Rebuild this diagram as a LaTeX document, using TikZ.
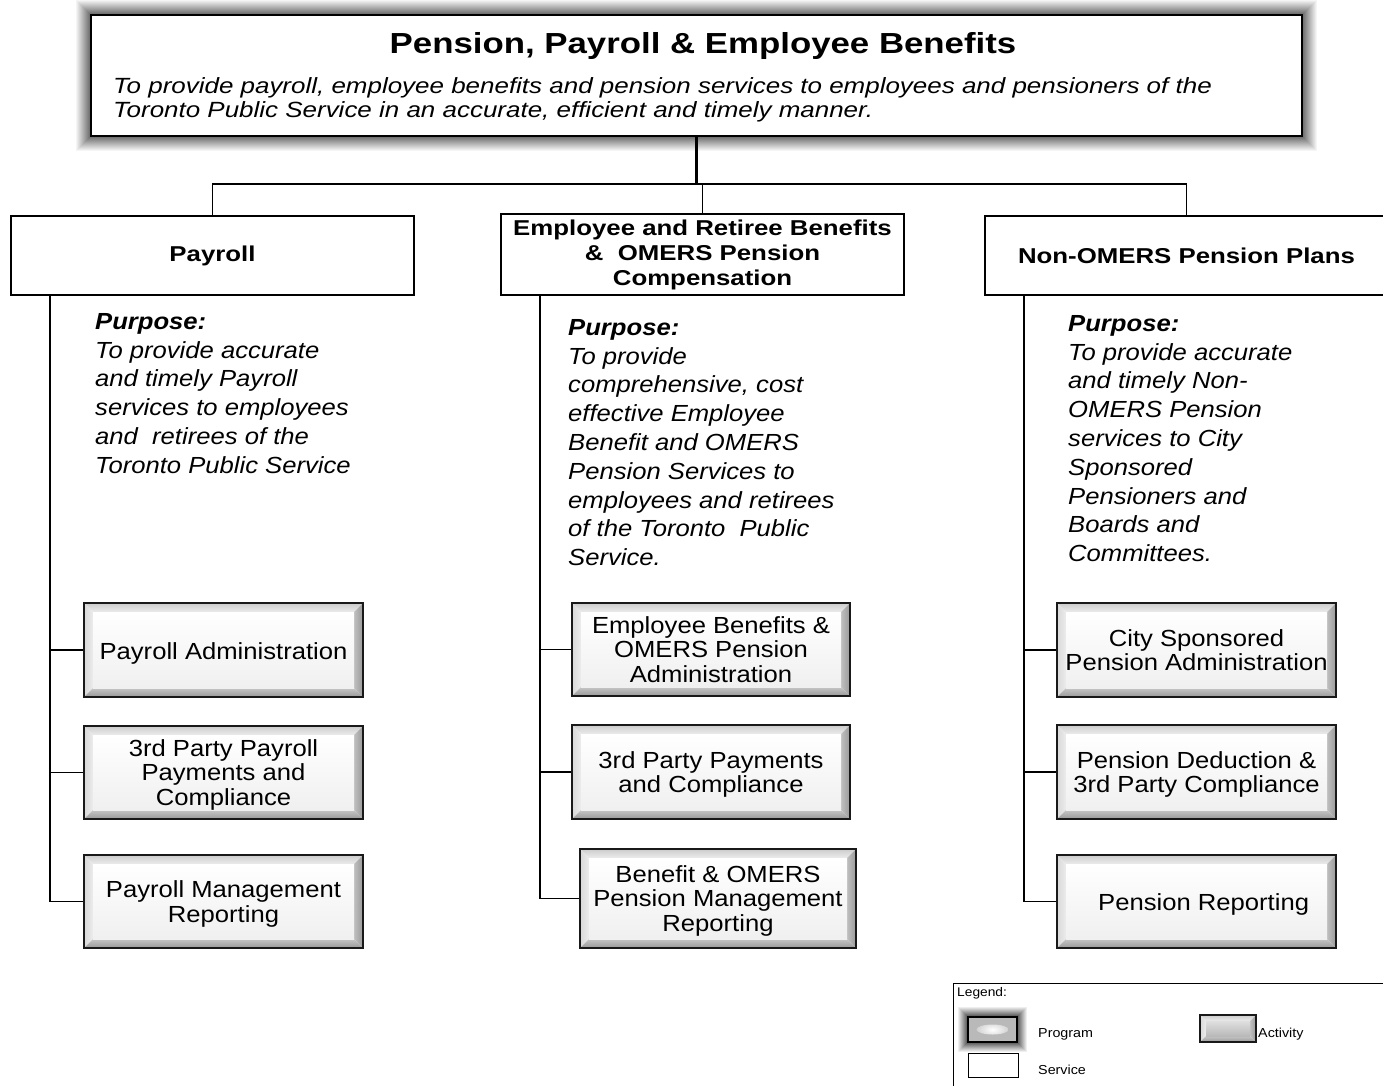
\documentclass[tikz,border=0pt]{standalone}
\usepackage{fontspec}
\setmainfont{Liberation Sans}[FakeStretch=1.1]
\newfontfamily\widefont{Liberation Sans}[FakeStretch=1.2]
\newfontfamily\leadfont{Liberation Sans}[FakeStretch=1.18]

% bevelled "button" face: #1 bevel width, #2/#3 face colours (top/bottom)
\newcommand\bevelpic[3]{%
  \coordinate (NW) at (path picture bounding box.north west);
  \coordinate (NE) at (path picture bounding box.north east);
  \coordinate (SW) at (path picture bounding box.south west);
  \coordinate (SE) at (path picture bounding box.south east);
  \shade[top color=gray!40, bottom color=gray!15]
    (NW) -- (NE) -- ([shift={(-#1,-#1)}]NE) -- ([shift={(#1,-#1)}]NW) -- cycle;
  \shade[left color=gray!30, right color=gray!15]
    (NW) -- ([shift={(#1,-#1)}]NW) -- ([shift={(#1,#1)}]SW) -- (SW) -- cycle;
  \shade[left color=gray!50, right color=gray!80]
    (NE) -- (SE) -- ([shift={(-#1,#1)}]SE) -- ([shift={(-#1,-#1)}]NE) -- cycle;
  \shade[top color=gray!45, bottom color=gray!80]
    (SW) -- ([shift={(#1,#1)}]SW) -- ([shift={(-#1,#1)}]SE) -- (SE) -- cycle;
  \shade[top color=#2, bottom color=#3]
    ([shift={(#1,-#1)}]NW) rectangle ([shift={(-#1,#1)}]SE);
}

% soft grey halo round a node: #1 node name, #2 steps, #3 start opacity
\newcommand\halo[3]{%
  \foreach \i in {1,...,#2}
    \draw[black, line width=1.05pt, opacity={#3*(1-(\i-1)/#2)}]
      ([shift={(-\i pt,\i pt)}]#1.north west) rectangle ([shift={(\i pt,-\i pt)}]#1.south east);
}

\begin{document}
\begin{tikzpicture}[x=1pt,y=-1pt,
  every node/.style={inner sep=0pt},
  service/.style={draw=black, line width=1.3pt, fill=white,
    minimum width=403pt, align=center,
    font=\widefont\bfseries\fontsize{21.5}{25}\selectfont},
  act/.style={draw=black!90, line width=1.8pt, fill=white, align=center,
    minimum width=279pt, minimum height=93pt,
    font=\fontsize{23.3}{24.5}\selectfont,
    path picture={\bevelpic{9pt}{white}{gray!12}}},
  purp/.style={anchor=north west, align=left,
    font=\itshape\fontsize{23.3}{28.8}\selectfont},
  bus/.style={line width=1.5pt},
  spine/.style={line width=2.2pt},
  branch/.style={line width=1.3pt},
  legtext/.style={anchor=west, font=\fontsize{13}{15}\selectfont},
]
\useasboundingbox (0,0) rectangle (1383,1085);

% ---- program box ----
\node[draw=black, line width=1.8pt, fill=white,
      minimum width=1211pt, minimum height=121pt]
  (top) at (696.5,75.5) {};
\halo{top}{14}{0.55}
\node[font=\widefont\bfseries\fontsize{29}{30}\selectfont] (title) at (703,46)
  {Pension, Payroll \& Employee Benefits};
\node[anchor=base west, font=\leadfont\itshape\fontsize{22}{24}\selectfont] (sub1) at (113,93)
  {To provide payroll, employee benefits and pension services to employees and pensioners of the};
\node[anchor=base west, font=\leadfont\itshape\fontsize{22}{24}\selectfont] (sub2) at (113,117)
  {Toronto Public Service in an accurate, efficient and timely manner.};

% ---- services ----
\node[service, minimum height=79pt] (pay) at (212.5,255.5) {Payroll};
\node[service, minimum height=81pt] (ben) at (702.5,254.5)
  {Employee and Retiree Benefits\\\&\ \ OMERS Pension\\Compensation};
\node[service, minimum height=79pt] (non) at (1186.5,255.5) {Non-OMERS Pension Plans};

% ---- bus from program to services ----
\coordinate (busL) at (212.5,184);
\coordinate (busR) at (1186.5,184);
\draw[line width=2.6pt] (top.south) -- (top.south |- busL);
\draw[bus] (pay.north) |- (busR) -| (non.north);
\draw[bus] (ben.north) -- (ben.north |- busL);

% ---- purposes ----
\node[purp] (p1) at (95,313)
  {\textbf{Purpose:}\\To provide accurate\\and timely Payroll\\services to employees\\and\ \ retirees of the\\Toronto Public Service};
\node[purp] (p2) at (568,319)
  {\textbf{Purpose:}\\To provide\\comprehensive, cost\\effective Employee\\Benefit and OMERS\\Pension Services to\\employees and retirees\\of the Toronto\ \ Public\\Service.};
\node[purp] (p3) at (1068,315)
  {\textbf{Purpose:}\\To provide accurate\\and timely Non-\\OMERS Pension\\services to City\\Sponsored\\Pensioners and\\Boards and\\Committees.};

% ---- activities ----
\begin{scope}[every node/.append style={text depth=0pt}]
\node[act, minimum height=94pt] (a1) at (223.5,650) {\raisebox{-2pt}{Payroll Administration}};
\node[act] (a2) at (223.5,772.5) {3rd Party Payroll\\Payments and\\Compliance};
\node[act] (a3) at (223.5,901.5) {Payroll Management\\Reporting};

\node[act, minimum width=278pt] (b1) at (711,649.5) {Employee Benefits \&\\OMERS Pension\\Administration};
\node[act, minimum width=278pt, minimum height=94pt] (b2) at (711,772) {3rd Party Payments\\and Compliance};
\node[act, minimum width=276pt, minimum height=99pt] (b3) at (718,898.5) {Benefit \& OMERS\\Pension Management\\Reporting};

\node[act, minimum height=94pt] (c1) at (1196.5,650) {City Sponsored\\Pension Administration};
\node[act, minimum height=94pt] (c2) at (1196.5,772) {Pension Deduction \&\\3rd Party Compliance};
\node[act] (c3) at (1196.5,901.5) {\raisebox{-2pt}{\ \ Pension Reporting}};
\end{scope}

% ---- spines and branches ----
\coordinate (s1) at ([xshift=40pt]pay.south west);
\coordinate (s2) at ([xshift=40pt]ben.south west);
\coordinate (s3) at ([xshift=40pt]non.south west);
\draw[spine] (s1) -- (s1 |- a3.west);
\draw[spine] (s2) -- (s2 |- b3.west);
\draw[spine] (s3) -- (s3 |- c3.west);
\foreach \n/\s in {a1/s1,a2/s1,a3/s1,b1/s2,b2/s2,b3/s2,c1/s3,c2/s3,c3/s3}
  \draw[branch] (\n.west) -- (\n.west -| \s);

% ---- legend ----
\coordinate (lgTL) at (953,983);
\draw[line width=0.9pt] (953,1095) -- (lgTL) -- (1395,983);
\node[anchor=north west, font=\fontsize{12.5}{14}\selectfont] (lgtitle) at (957,987) {Legend:};
\node[draw=black, line width=1.2pt, fill=gray!55,
      minimum width=49pt, minimum height=25pt,
      path picture={\shade[inner color=white, outer color=gray!55]
        (path picture bounding box.center) ellipse (16pt and 5pt);}]
  (lgprog) at (992.5,1029.5) {};
\halo{lgprog}{9}{0.6}
\node[legtext] (lgprogt) at (1038,1034) {Program};
\node[draw=black, line width=1pt, fill=white, minimum width=50pt, minimum height=24pt]
  (lgserv) at (993,1065) {};
\node[legtext] (lgservt) at (1038,1070) {Service};
\node[draw=black!90, line width=1.4pt, fill=white, minimum width=56pt, minimum height=27pt,
      path picture={\bevelpic{6pt}{gray!25}{gray!55}}]
  (lgact) at (1228,1028.5) {};
\node[legtext] (lgactt) at (1258,1034) {Activity};
\end{tikzpicture}
\end{document}
